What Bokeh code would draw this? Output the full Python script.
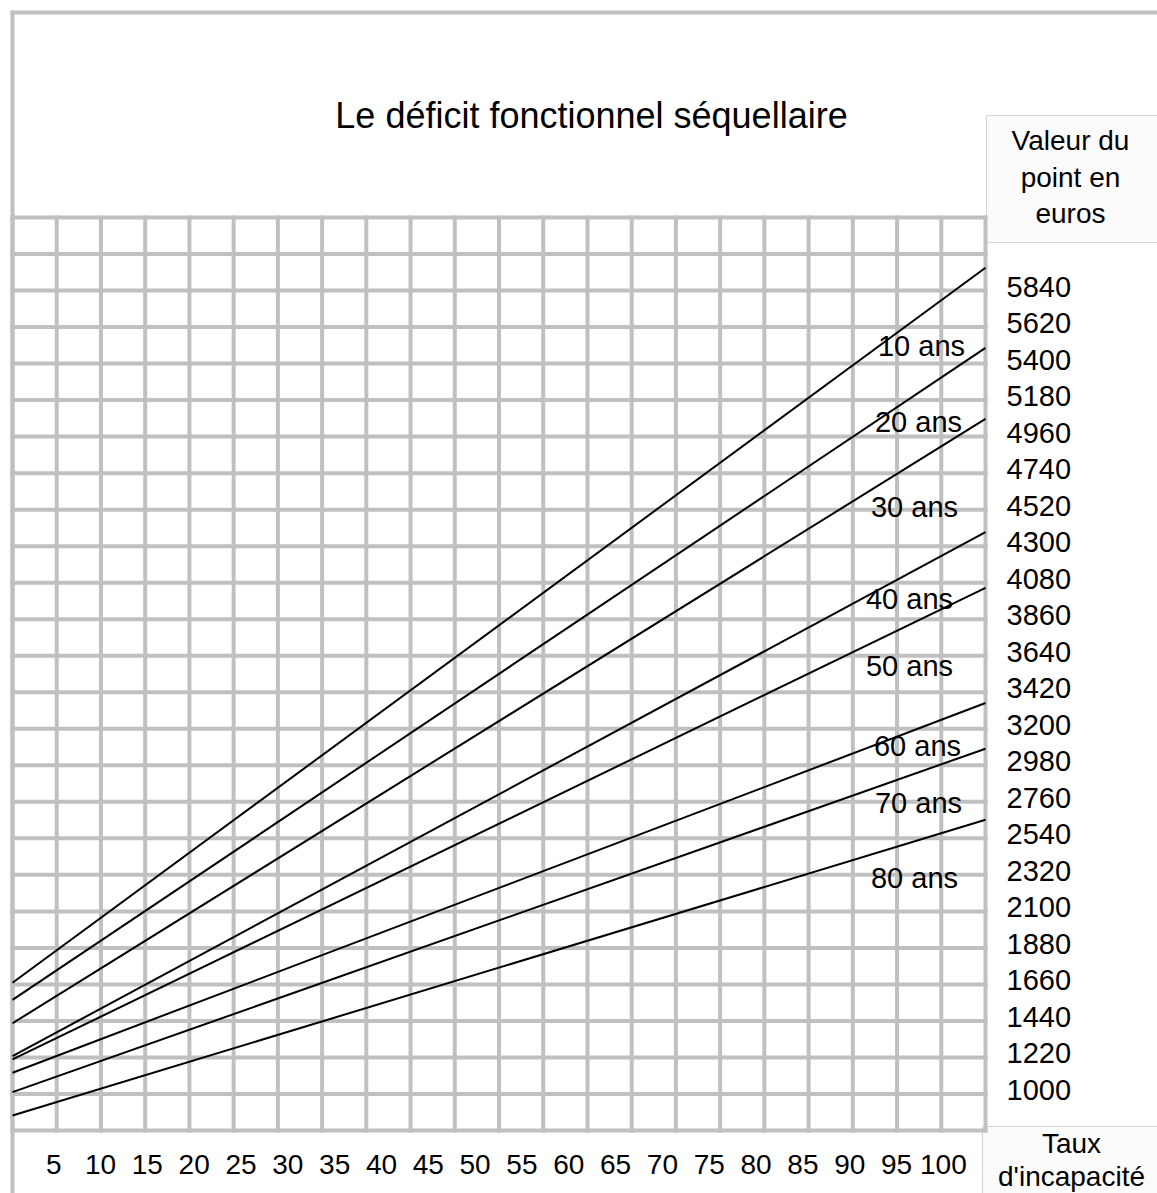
import numpy as np
from bokeh.plotting import figure
from bokeh.models import Range1d, ColumnDataSource
from bokeh.core.properties import value
from bokeh.embed import file_html
from bokeh.resources import INLINE

# ---------------- data ----------------
AGES = ["10 ans", "20 ans", "30 ans", "40 ans", "50 ans", "60 ans", "70 ans", "80 ans"]
TAUX_RANGE = [0.6, 104.5]                     # taux d'incapacité at both ends of each line
VAL_START = [1670, 1567, 1426, 1228, 1208, 1128, 1011, 870]   # euros at left end
VAL_END = [5977, 5495, 5067, 4384, 4049, 3355, 3080, 2652]    # euros at right end
TAUX_TICKS = list(range(5, 101, 5))
TAUX_LABELS = [str(t) for t in TAUX_TICKS]
EURO_TICKS = list(range(1000, 5841, 220))
EURO_LABELS = [str(v) for v in EURO_TICKS]
GRID_EURO = list(range(780, 6281, 220))
N_COLS = 22

TITLE = "Le déficit fonctionnel séquellaire"
Y_TITLE = ["Valeur du", "point en", "euros"]
X_TITLE = ["Taux", "d'incapacité"]

# ---------------- layout helpers (pixel -> data) ----------------
W, H = 1157, 1193
GX0, GX1 = 12, 985          # grid area, pixels
GY0, GY1 = 217, 1130
T0, T1 = TAUX_RANGE
E0, E1 = GRID_EURO[0], GRID_EURO[-1]
ppt = (GX1 - GX0) / (T1 - T0)
ppe = (GY1 - GY0) / (E1 - E0)


def tx(px):
    return T0 + (px - GX0) / ppt


def ey(py):
    return E1 - (py - GY0) / ppe


FONT = "Liberation Sans"
GRID_COLOR = "#c0c0c0"

p = figure(width=W, height=H, output_backend="svg", toolbar_location=None, title=None,
           tools="", x_axis_location=None, y_axis_location=None,
           x_range=Range1d(tx(0), tx(W)), y_range=Range1d(ey(H), ey(0)),
           min_border=0)
p.min_border_left = p.min_border_right = p.min_border_top = p.min_border_bottom = 0
p.background_fill_color = "white"
p.border_fill_color = "white"
p.outline_line_color = None
p.grid.visible = False

# side boxes (drawn first, grid on top)
BOX_FILL, BOX_LINE = "#fbfbfb", "#d4d4d4"
p.quad(left=[tx(986), tx(982)], right=[tx(W + 10)] * 2,
       top=[ey(115), ey(1126)], bottom=[ey(242), ey(H + 10)],
       fill_color=BOX_FILL, line_color=BOX_LINE, line_width=1)

# grid
half = 2
vx = list(np.linspace(T0, T1, N_COLS + 1))
p.segment(x0=vx, x1=vx, y0=[ey(GY1 + half)] * len(vx), y1=[ey(GY0 - half)] * len(vx),
          line_color=GRID_COLOR, line_width=4)
p.segment(x0=[tx(GX0 - half)] * len(GRID_EURO), x1=[tx(GX1 + half)] * len(GRID_EURO),
          y0=GRID_EURO, y1=GRID_EURO, line_color=GRID_COLOR, line_width=4)

# outer frame lines
p.segment(x0=[tx(12), tx(10)], x1=[tx(12), tx(W + 10)],
          y0=[ey(10), ey(12)], y1=[ey(H + 10), ey(12)],
          line_color=GRID_COLOR, line_width=4)

# data lines
src = ColumnDataSource(dict(
    xs=[TAUX_RANGE for _ in AGES],
    ys=[[s, e] for s, e in zip(VAL_START, VAL_END)],
    age=AGES,
))
p.multi_line("xs", "ys", source=src, line_color="black", line_width=2)


def texts(xs, ys, labels, size, align="center", y_offset=0):
    p.text(x=xs, y=ys, text=labels, text_align=align, text_baseline="middle",
           text_font=value(FONT), text_font_size=value(f"{size}px"),
           text_color="black", y_offset=y_offset)


# tick labels
texts(TAUX_TICKS, [ey(1164)] * len(TAUX_TICKS), TAUX_LABELS, 28)
texts([tx(1006)] * len(EURO_TICKS), EURO_TICKS, EURO_LABELS, 29, align="left", y_offset=-4)

# titles
texts([tx(591)], [ey(115)], [TITLE], 36)
texts([tx(1070)] * 3, [ey(140), ey(177), ey(213)], Y_TITLE, 28)
texts([tx(1071)] * 2, [ey(1143), ey(1176)], X_TITLE, 28)

# age labels
AGE_PX = [921, 918, 914, 909, 909, 917, 918, 914]
AGE_PY = [345, 421, 506, 598, 665, 745, 802, 877]
texts([tx(v) for v in AGE_PX], [ey(v) for v in AGE_PY], AGES, 29)

open("out.html", "w").write(file_html(p, INLINE))
